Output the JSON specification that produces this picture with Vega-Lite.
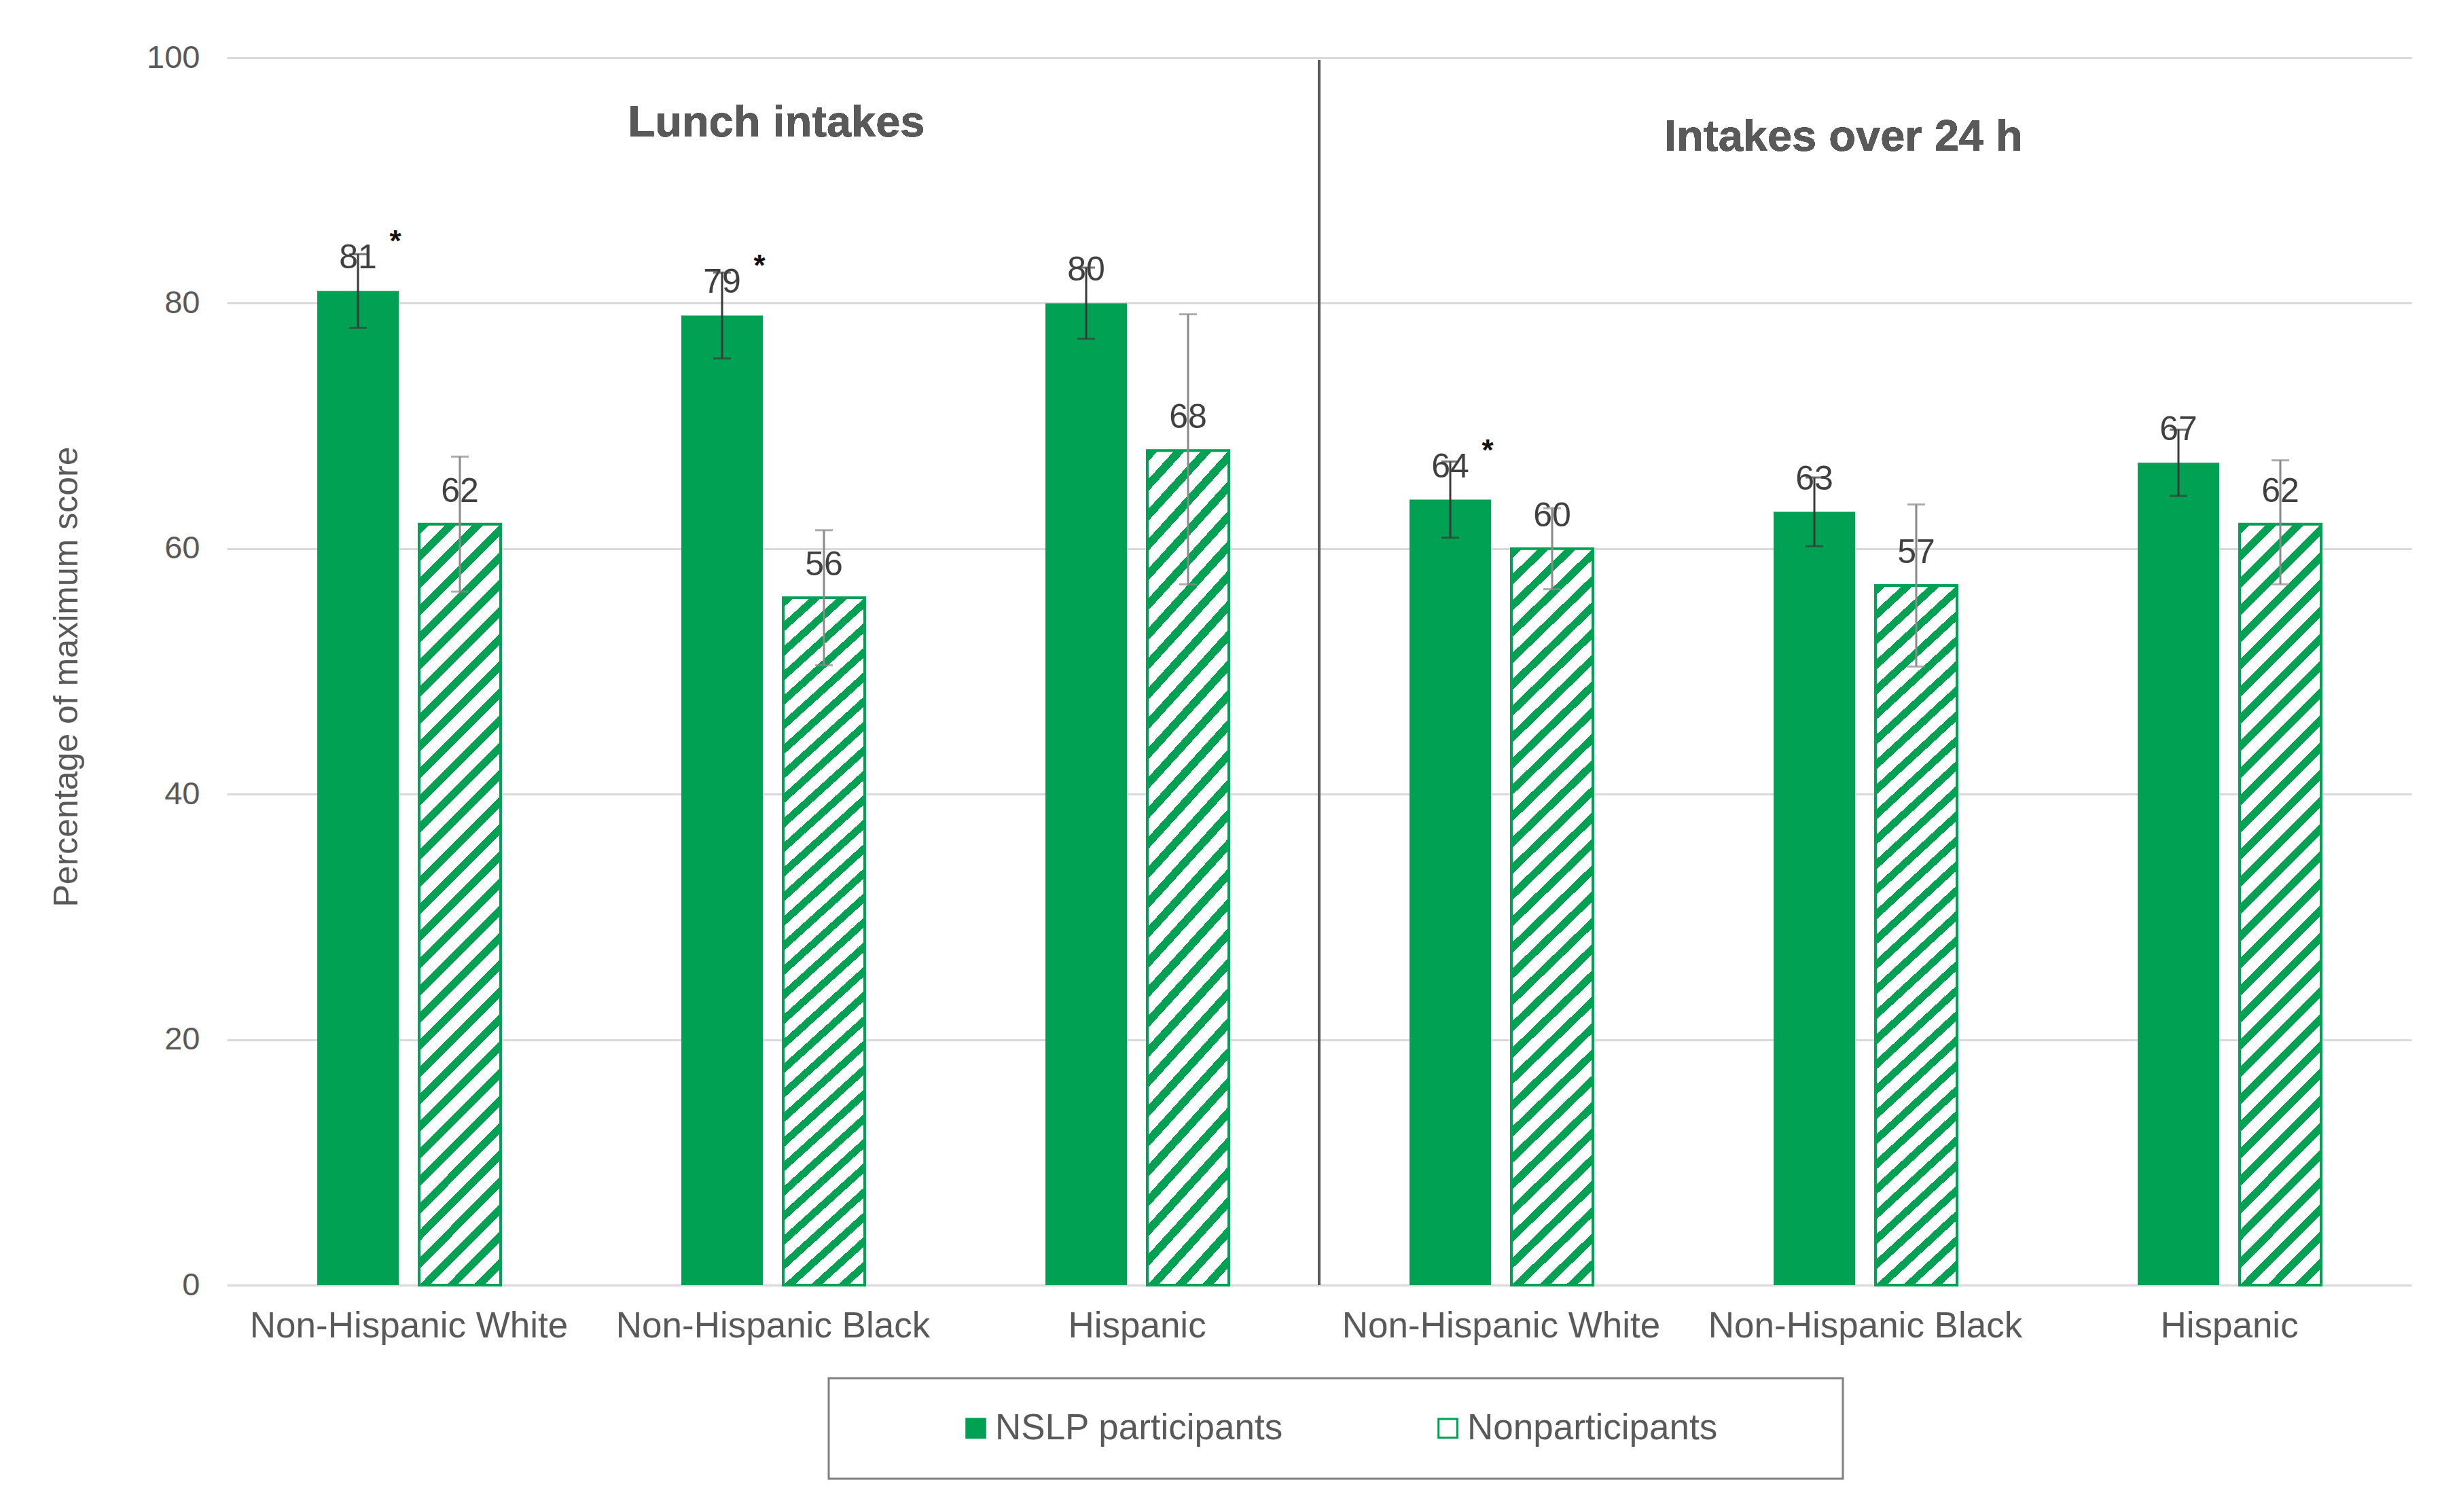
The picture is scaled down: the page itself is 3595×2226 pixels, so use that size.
{
  "$schema": "https://vega.github.io/schema/vega-lite/v6.json",
  "autosize": {"type": "none"},
  "padding": {"left": 334, "top": 85, "right": 45, "bottom": 334},
  "width": 3216,
  "height": 1807,
  "background": "white",
  "config": {"font": "Liberation Sans", "view": {"stroke": null}, "legend": {"strokeWidth": 3}},
  "data": {
    "values": [
      {"key": "Lunch|Non-Hispanic White", "group": "NSLP participants", "value": 81, "lo": 78, "hi": 84, "sig": "*"},
      {"key": "Lunch|Non-Hispanic White", "group": "Nonparticipants", "value": 62, "lo": 56.5, "hi": 67.5, "sig": ""},
      {"key": "Lunch|Non-Hispanic Black", "group": "NSLP participants", "value": 79, "lo": 75.5, "hi": 82.5, "sig": "*"},
      {"key": "Lunch|Non-Hispanic Black", "group": "Nonparticipants", "value": 56, "lo": 50.5, "hi": 61.5, "sig": ""},
      {"key": "Lunch|Hispanic", "group": "NSLP participants", "value": 80, "lo": 77.1, "hi": 82.9, "sig": ""},
      {"key": "Lunch|Hispanic", "group": "Nonparticipants", "value": 68, "lo": 57.1, "hi": 79.1, "sig": ""},
      {"key": "24h|Non-Hispanic White", "group": "NSLP participants", "value": 64, "lo": 60.9, "hi": 67.1, "sig": "*"},
      {"key": "24h|Non-Hispanic White", "group": "Nonparticipants", "value": 60, "lo": 56.7, "hi": 63.3, "sig": ""},
      {"key": "24h|Non-Hispanic Black", "group": "NSLP participants", "value": 63, "lo": 60.2, "hi": 65.8, "sig": ""},
      {"key": "24h|Non-Hispanic Black", "group": "Nonparticipants", "value": 57, "lo": 50.4, "hi": 63.6, "sig": ""},
      {"key": "24h|Hispanic", "group": "NSLP participants", "value": 67, "lo": 64.3, "hi": 69.7, "sig": ""},
      {"key": "24h|Hispanic", "group": "Nonparticipants", "value": 62, "lo": 57.1, "hi": 67.2, "sig": ""}
    ]
  },
  "encoding": {
    "x": {
      "field": "key", "type": "nominal",
      "scale": {
        "domain": ["Lunch|Non-Hispanic White", "Lunch|Non-Hispanic Black", "Lunch|Hispanic", "24h|Non-Hispanic White", "24h|Non-Hispanic Black", "24h|Hispanic"],
        "paddingInner": 0, "paddingOuter": 0
      },
      "axis": {
        "title": null, "labelExpr": "split(datum.label, '|')[1]", "labelAngle": 0,
        "labelFontSize": 53, "labelColor": "#595959", "labelPadding": 34, "labelLimit": 2000,
        "ticks": false, "domain": false, "grid": false
      }
    },
    "xOffset": {
      "field": "group", "type": "nominal",
      "scale": {"domain": ["NSLP participants", "Nonparticipants"], "paddingInner": 0.2, "paddingOuter": 0.887}
    }
  },
  "layer": [
    {
      "mark": {"type": "bar", "stroke": "#00A152"},
      "encoding": {
        "y": {
          "field": "value", "type": "quantitative",
          "scale": {"domain": [0, 100], "nice": false},
          "axis": {
            "values": [0, 20, 40, 60, 80, 100], "labelFontSize": 47, "labelColor": "#595959",
            "labelPadding": 40, "ticks": false, "domain": false,
            "gridColor": "#d9d9d9", "gridWidth": 3,
            "title": "Percentage of maximum score", "titleFontSize": 50, "titleFontWeight": "normal",
            "titleColor": "#595959", "titleAngle": -90, "titleBaseline": "alphabetic", "titleAlign": "center",
            "titleX": -221, "titleY": 911
          }
        },
        "fill": {
          "condition": {
            "test": "datum.group === 'Nonparticipants'",
            "value": {
              "gradient": "linear", "x1": 0, "y1": 0, "x2": 0.1174, "y2": 1.0946,
              "stops": [
                {"offset": 0, "color": "#00A152"}, {"offset": 0.0129, "color": "#00A152"}, {"offset": 0.0129, "color": "#ffffff"}, {"offset": 0.0323, "color": "#ffffff"},
                {"offset": 0.0323, "color": "#00A152"}, {"offset": 0.0452, "color": "#00A152"}, {"offset": 0.0452, "color": "#ffffff"}, {"offset": 0.0645, "color": "#ffffff"},
                {"offset": 0.0645, "color": "#00A152"}, {"offset": 0.0774, "color": "#00A152"}, {"offset": 0.0774, "color": "#ffffff"}, {"offset": 0.0968, "color": "#ffffff"},
                {"offset": 0.0968, "color": "#00A152"}, {"offset": 0.1097, "color": "#00A152"}, {"offset": 0.1097, "color": "#ffffff"}, {"offset": 0.129, "color": "#ffffff"},
                {"offset": 0.129, "color": "#00A152"}, {"offset": 0.1419, "color": "#00A152"}, {"offset": 0.1419, "color": "#ffffff"}, {"offset": 0.1613, "color": "#ffffff"},
                {"offset": 0.1613, "color": "#00A152"}, {"offset": 0.1742, "color": "#00A152"}, {"offset": 0.1742, "color": "#ffffff"}, {"offset": 0.1935, "color": "#ffffff"},
                {"offset": 0.1935, "color": "#00A152"}, {"offset": 0.2065, "color": "#00A152"}, {"offset": 0.2065, "color": "#ffffff"}, {"offset": 0.2258, "color": "#ffffff"},
                {"offset": 0.2258, "color": "#00A152"}, {"offset": 0.2387, "color": "#00A152"}, {"offset": 0.2387, "color": "#ffffff"}, {"offset": 0.2581, "color": "#ffffff"},
                {"offset": 0.2581, "color": "#00A152"}, {"offset": 0.271, "color": "#00A152"}, {"offset": 0.271, "color": "#ffffff"}, {"offset": 0.2903, "color": "#ffffff"},
                {"offset": 0.2903, "color": "#00A152"}, {"offset": 0.3032, "color": "#00A152"}, {"offset": 0.3032, "color": "#ffffff"}, {"offset": 0.3226, "color": "#ffffff"},
                {"offset": 0.3226, "color": "#00A152"}, {"offset": 0.3355, "color": "#00A152"}, {"offset": 0.3355, "color": "#ffffff"}, {"offset": 0.3548, "color": "#ffffff"},
                {"offset": 0.3548, "color": "#00A152"}, {"offset": 0.3677, "color": "#00A152"}, {"offset": 0.3677, "color": "#ffffff"}, {"offset": 0.3871, "color": "#ffffff"},
                {"offset": 0.3871, "color": "#00A152"}, {"offset": 0.4, "color": "#00A152"}, {"offset": 0.4, "color": "#ffffff"}, {"offset": 0.4194, "color": "#ffffff"},
                {"offset": 0.4194, "color": "#00A152"}, {"offset": 0.4323, "color": "#00A152"}, {"offset": 0.4323, "color": "#ffffff"}, {"offset": 0.4516, "color": "#ffffff"},
                {"offset": 0.4516, "color": "#00A152"}, {"offset": 0.4645, "color": "#00A152"}, {"offset": 0.4645, "color": "#ffffff"}, {"offset": 0.4839, "color": "#ffffff"},
                {"offset": 0.4839, "color": "#00A152"}, {"offset": 0.4968, "color": "#00A152"}, {"offset": 0.4968, "color": "#ffffff"}, {"offset": 0.5161, "color": "#ffffff"},
                {"offset": 0.5161, "color": "#00A152"}, {"offset": 0.529, "color": "#00A152"}, {"offset": 0.529, "color": "#ffffff"}, {"offset": 0.5484, "color": "#ffffff"},
                {"offset": 0.5484, "color": "#00A152"}, {"offset": 0.5613, "color": "#00A152"}, {"offset": 0.5613, "color": "#ffffff"}, {"offset": 0.5806, "color": "#ffffff"},
                {"offset": 0.5806, "color": "#00A152"}, {"offset": 0.5935, "color": "#00A152"}, {"offset": 0.5935, "color": "#ffffff"}, {"offset": 0.6129, "color": "#ffffff"},
                {"offset": 0.6129, "color": "#00A152"}, {"offset": 0.6258, "color": "#00A152"}, {"offset": 0.6258, "color": "#ffffff"}, {"offset": 0.6452, "color": "#ffffff"},
                {"offset": 0.6452, "color": "#00A152"}, {"offset": 0.6581, "color": "#00A152"}, {"offset": 0.6581, "color": "#ffffff"}, {"offset": 0.6774, "color": "#ffffff"},
                {"offset": 0.6774, "color": "#00A152"}, {"offset": 0.6903, "color": "#00A152"}, {"offset": 0.6903, "color": "#ffffff"}, {"offset": 0.7097, "color": "#ffffff"},
                {"offset": 0.7097, "color": "#00A152"}, {"offset": 0.7226, "color": "#00A152"}, {"offset": 0.7226, "color": "#ffffff"}, {"offset": 0.7419, "color": "#ffffff"},
                {"offset": 0.7419, "color": "#00A152"}, {"offset": 0.7548, "color": "#00A152"}, {"offset": 0.7548, "color": "#ffffff"}, {"offset": 0.7742, "color": "#ffffff"},
                {"offset": 0.7742, "color": "#00A152"}, {"offset": 0.7871, "color": "#00A152"}, {"offset": 0.7871, "color": "#ffffff"}, {"offset": 0.8065, "color": "#ffffff"},
                {"offset": 0.8065, "color": "#00A152"}, {"offset": 0.8194, "color": "#00A152"}, {"offset": 0.8194, "color": "#ffffff"}, {"offset": 0.8387, "color": "#ffffff"},
                {"offset": 0.8387, "color": "#00A152"}, {"offset": 0.8516, "color": "#00A152"}, {"offset": 0.8516, "color": "#ffffff"}, {"offset": 0.871, "color": "#ffffff"},
                {"offset": 0.871, "color": "#00A152"}, {"offset": 0.8839, "color": "#00A152"}, {"offset": 0.8839, "color": "#ffffff"}, {"offset": 0.9032, "color": "#ffffff"},
                {"offset": 0.9032, "color": "#00A152"}, {"offset": 0.9161, "color": "#00A152"}, {"offset": 0.9161, "color": "#ffffff"}, {"offset": 0.9355, "color": "#ffffff"},
                {"offset": 0.9355, "color": "#00A152"}, {"offset": 0.9484, "color": "#00A152"}, {"offset": 0.9484, "color": "#ffffff"}, {"offset": 0.9677, "color": "#ffffff"},
                {"offset": 0.9677, "color": "#00A152"}, {"offset": 0.9806, "color": "#00A152"}, {"offset": 0.9806, "color": "#ffffff"}, {"offset": 1, "color": "#ffffff"}
              ]
            }
          },
          "field": "group", "type": "nominal",
          "scale": {"domain": ["NSLP participants", "Nonparticipants"], "range": ["#00A152", "#ffffff"]},
          "legend": {
            "title": " ", "titleOrient": "right", "titleFontSize": 1, "titlePadding": 138,
            "orient": "none", "legendX": 886, "legendY": 1944, "direction": "horizontal",
            "symbolType": "square", "symbolSize": 760, "symbolStrokeColor": "#00A152", "symbolStrokeWidth": 3,
            "symbolOffset": 143, "columnPadding": 72, "labelOffset": 2, "labelLimit": 2000,
            "labelFontSize": 53, "labelColor": "#595959",
            "padding": 47, "strokeColor": "#808080"
          }
        },
        "strokeWidth": {"condition": {"test": "datum.group === 'Nonparticipants'", "value": 4}, "value": 0}
      }
    },
    {
      "mark": {"type": "rule", "strokeWidth": 3},
      "encoding": {
        "y": {"field": "lo", "type": "quantitative"},
        "y2": {"field": "hi"},
        "color": {"condition": {"test": "datum.group === 'Nonparticipants'", "value": "#8a8a8a"}, "value": "#3a3a3a"}
      }
    },
    {
      "mark": {"type": "tick", "size": 26, "thickness": 3},
      "encoding": {
        "y": {"field": "lo", "type": "quantitative"},
        "color": {"condition": {"test": "datum.group === 'Nonparticipants'", "value": "#8a8a8a"}, "value": "#3a3a3a"}
      }
    },
    {
      "mark": {"type": "tick", "size": 26, "thickness": 3},
      "encoding": {
        "y": {"field": "hi", "type": "quantitative"},
        "color": {"condition": {"test": "datum.group === 'Nonparticipants'", "value": "#8a8a8a"}, "value": "#3a3a3a"}
      }
    },
    {
      "mark": {"type": "text", "fontSize": 50, "color": "#404040", "align": "center", "baseline": "alphabetic", "dy": -33},
      "encoding": {
        "y": {"field": "value", "type": "quantitative"},
        "text": {"field": "value", "type": "quantitative"}
      }
    },
    {
      "mark": {"type": "text", "fontSize": 44, "fontWeight": "bold", "color": "#111111", "align": "center", "baseline": "alphabetic", "dx": 55, "dy": -58},
      "encoding": {
        "y": {"field": "value", "type": "quantitative"},
        "text": {"field": "sig", "type": "nominal"}
      }
    },
    {
      "mark": {"type": "rule", "color": "#595959", "strokeWidth": 3},
      "encoding": {
        "x": {"datum": "24h|Non-Hispanic White", "type": "nominal", "bandPosition": 0},
        "xOffset": null,
        "y": {"datum": 99.8, "type": "quantitative"},
        "y2": {"datum": 0}
      }
    },
    {
      "mark": {"type": "text", "fontSize": 65, "fontWeight": "bold", "color": "#595959", "align": "center", "baseline": "alphabetic", "dx": 5},
      "encoding": {
        "x": {"datum": "Lunch|Non-Hispanic Black", "type": "nominal"},
        "xOffset": null,
        "y": {"datum": 93.6, "type": "quantitative"},
        "text": {"value": "Lunch intakes"}
      }
    },
    {
      "mark": {"type": "text", "fontSize": 65, "fontWeight": "bold", "color": "#595959", "align": "center", "baseline": "alphabetic", "dx": -32},
      "encoding": {
        "x": {"datum": "24h|Non-Hispanic Black", "type": "nominal"},
        "xOffset": null,
        "y": {"datum": 92.4, "type": "quantitative"},
        "text": {"value": "Intakes over 24 h"}
      }
    }
  ]
}
